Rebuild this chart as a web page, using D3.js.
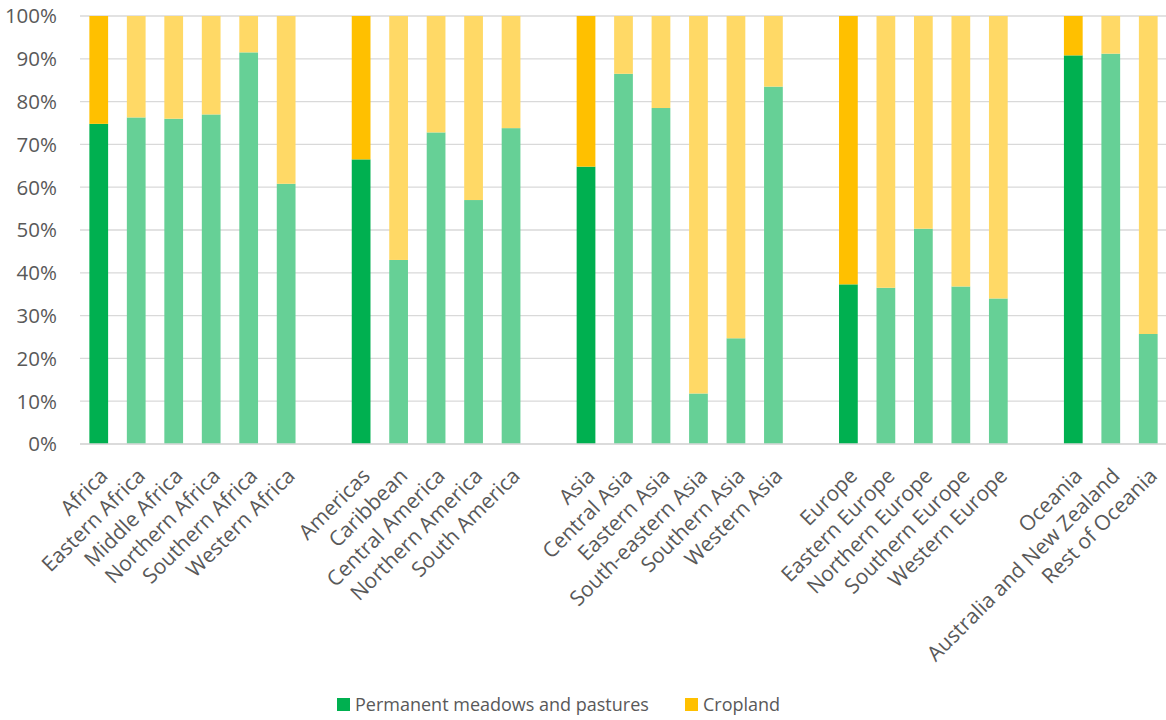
<!DOCTYPE html>
<html>
<head>
<meta charset="utf-8">
<script src="https://cdn.jsdelivr.net/npm/d3@7"></script>
<style>
  html, body { margin: 0; padding: 0; background: #fff; }
  svg { display: block; font-family: "Open Sans", "DejaVu Sans", sans-serif; }
</style>
</head>
<body>
<svg id="chart" width="1166" height="720"></svg>
<script>
// Land use share by region: permanent meadows and pastures vs cropland (%)
// Empty strings mark the spacing slots between continents.
const categories = [
  "Africa", "Eastern Africa", "Middle Africa", "Northern Africa", "Southern Africa", "Western Africa", "",
  "Americas", "Caribbean", "Central America", "Northern America", "South America", "",
  "Asia", "Central Asia", "Eastern Asia", "South-eastern Asia", "Southern Asia", "Western Asia", "",
  "Europe", "Eastern Europe", "Northern Europe", "Southern Europe", "Western Europe", "",
  "Oceania", "Australia and New Zealand", "Rest of Oceania"
];
const pastures = [
  74.8, 76.3, 76.0, 77.0, 91.5, 60.8, null,
  66.5, 43.0, 72.8, 57.0, 73.8, null,
  64.8, 86.5, 78.5, 11.8, 24.7, 83.5, null,
  37.3, 36.5, 50.3, 36.8, 34.0, null,
  90.8, 91.2, 25.7
];
const cropland = pastures.map(v => v == null ? null : 100 - v);
const continents = ["Africa", "Americas", "Asia", "Europe", "Oceania"];
const yTicks = [0, 10, 20, 30, 40, 50, 60, 70, 80, 90, 100];
const seriesNames = ["Permanent meadows and pastures", "Cropland"];

const colors = {
  pastureMain: "#00B050", pastureSub: "#66D096",
  cropMain: "#FFC000", cropSub: "#FFD966"
};

const svg = d3.select("#chart");
const plot = { left: 80, right: 1167, top: 16, bottom: 444 };

const x = d3.scaleBand()
  .domain(d3.range(categories.length))
  .range([plot.left, plot.right])
  .paddingInner(0.5)
  .paddingOuter(0.25);

const y = d3.scaleLinear().domain([0, 100]).range([plot.bottom, plot.top]);

// gridlines
svg.append("g")
  .selectAll("line")
  .data(yTicks)
  .join("line")
  .attr("x1", plot.left).attr("x2", 1166)
  .attr("y1", d => y(d)).attr("y2", d => y(d))
  .attr("stroke", "#D9D9D9").attr("stroke-width", 1.3);

// y axis labels
svg.append("g")
  .selectAll("text")
  .data(yTicks)
  .join("text")
  .attr("x", 57).attr("y", d => y(d))
  .attr("dy", "0.36em")
  .attr("text-anchor", "end")
  .attr("font-size", 20.5)
  .attr("fill", "#595959")
  .text(d => d + "%");

const rows = categories.map((c, i) => ({ c, i, p: pastures[i], k: cropland[i], main: continents.includes(c) }))
  .filter(d => d.p != null);

// stacked bars: pastures at the bottom, cropland on top
const bars = svg.append("g");
bars.selectAll("rect.pasture")
  .data(rows)
  .join("rect")
  .attr("class", "pasture")
  .attr("x", d => x(d.i)).attr("width", x.bandwidth())
  .attr("y", d => y(d.p)).attr("height", d => y(0) - y(d.p))
  .attr("fill", d => d.main ? colors.pastureMain : colors.pastureSub);
bars.selectAll("rect.crop")
  .data(rows)
  .join("rect")
  .attr("class", "crop")
  .attr("x", d => x(d.i)).attr("width", x.bandwidth())
  .attr("y", d => y(d.p + d.k)).attr("height", d => y(d.p) - y(d.p + d.k))
  .attr("fill", d => d.main ? colors.cropMain : colors.cropSub);

// baseline
svg.append("line")
  .attr("x1", plot.left).attr("x2", 1166)
  .attr("y1", y(0)).attr("y2", y(0))
  .attr("stroke", "#D9D9D9").attr("stroke-width", 1.3);

// rotated category labels
svg.append("g")
  .selectAll("text")
  .data(rows)
  .join("text")
  .attr("transform", d => `translate(${x(d.i) + x.bandwidth() / 2 + 5},${y(0) + 28}) rotate(-45)`)
  .attr("text-anchor", "end")
  .attr("dy", "0.35em")
  .attr("font-size", 21)
  .attr("fill", "#595959")
  .text(d => d.c);

// legend
const legend = svg.append("g");
const legendItems = [
  { name: seriesNames[0], color: colors.pastureMain, x: 337 },
  { name: seriesNames[1], color: colors.cropMain, x: 685 }
];
legendItems.forEach(it => {
  legend.append("rect")
    .attr("x", it.x).attr("y", 698).attr("width", 13).attr("height", 13)
    .attr("fill", it.color);
  legend.append("text")
    .attr("x", it.x + 18).attr("y", 705)
    .attr("dy", "0.35em")
    .attr("font-size", 18)
    .attr("fill", "#595959")
    .text(it.name);
});
</script>
</body>
</html>
